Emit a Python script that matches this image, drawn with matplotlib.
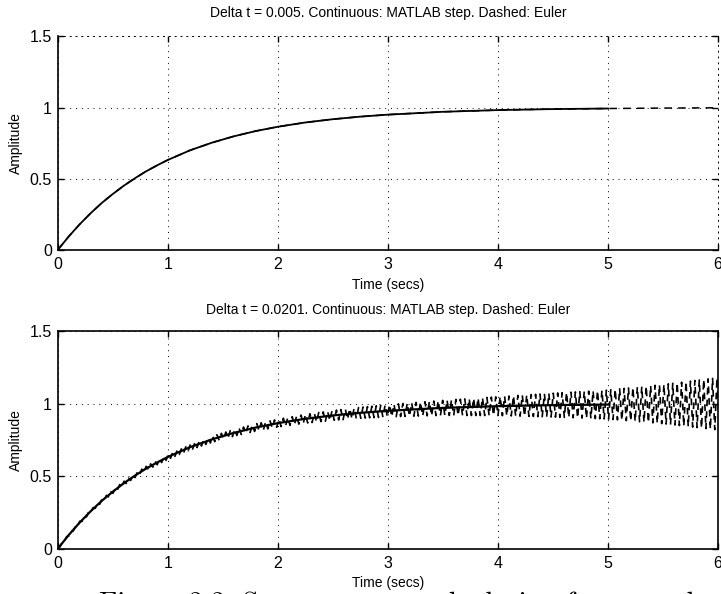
import matplotlib.pyplot as plt
import numpy as np

plt.rcParams['font.family'] = ['Liberation Sans', 'DejaVu Sans']

# respuesta continua (MATLAB step)
t_cont = [0, 0.1, 0.2, 0.3, 0.4, 0.5, 0.6, 0.7, 0.8, 0.9, 1.0, 1.2, 1.4, 1.6,
          1.8, 2.0, 2.25, 2.5, 2.75, 3.0, 3.5, 4.0, 4.5, 5.0]
y_cont = [0, 0.095, 0.181, 0.259, 0.330, 0.393, 0.451, 0.503, 0.551, 0.593,
          0.632, 0.699, 0.753, 0.798, 0.835, 0.865, 0.895, 0.918, 0.936, 0.950,
          0.970, 0.982, 0.989, 0.993]

# Euler dt = 0.005 (sigue la curva y continua hasta 6 s)
t_eu1 = t_cont + [5.5, 6.0]
y_eu1 = y_cont + [0.996, 0.998]

# Euler dt = 0.0201: amplitud de la oscilacion
dt2 = 0.0201
env_t = [0, 0.5, 1, 1.5, 2, 2.5, 3, 3.5, 4, 4.5, 5, 5.5, 6]
env_a = [0.006, 0.012, 0.017, 0.022, 0.027, 0.034, 0.042, 0.052, 0.065,
         0.082, 0.100, 0.135, 0.180]

xticks = [0, 1, 2, 3, 4, 5, 6]
yticks = [0, 0.5, 1, 1.5]

t_eu2 = np.arange(0, 6.0 + dt2 / 2, dt2)
base2 = np.interp(t_eu2, t_eu1, y_eu1)
osc2 = np.interp(t_eu2, env_t, env_a) * (-1.0) ** np.arange(len(t_eu2))
osc2[0] = 0
y_eu2 = base2 + osc2

fig = plt.figure(figsize=(7.21, 5.94), dpi=100)
ax1 = fig.add_axes([0.080, 0.579, 0.916, 0.360])
ax2 = fig.add_axes([0.080, 0.076, 0.916, 0.367])

ax1.plot(t_cont, y_cont, color='black', lw=1.3)
ax1.plot(t_eu1, y_eu1, color='black', lw=1.1, ls=(0, (5, 4)))
ax1.set_title('Delta t = 0.005. Continuous: MATLAB step. Dashed: Euler', fontsize=10, pad=14)

ax2.plot(t_cont, y_cont, color='black', lw=1.6)
ax2.plot(t_eu2, y_eu2, color='black', lw=1.2, ls=(0, (4, 3)))
ax2.set_title('Delta t = 0.0201. Continuous: MATLAB step. Dashed: Euler', fontsize=10, pad=12)

for ax in (ax1, ax2):
    ax.set_xlim(0, 6)
    ax.set_ylim(0, 1.5)
    ax.set_xticks(xticks)
    ax.set_yticks(yticks)
    ax.set_xticklabels([str(v) for v in xticks], fontsize=11.5)
    ax.set_yticklabels(['0', '0.5', '1', '1.5'], fontsize=11.5)
    ax.tick_params(direction='in', top=True, right=True, length=4, width=1, pad=4)
    ax.tick_params(axis='x', pad=5)
    ax.grid(True, color='black', ls=(0, (1, 5)), lw=0.7)
    ax.set_ylabel('Amplitude', fontsize=10, labelpad=5)
    ax.set_xlabel('Time (secs)', fontsize=10, labelpad=4,
                  bbox=dict(facecolor='white', edgecolor='none', pad=1))
    for s in ax.spines.values():
        s.set_linewidth(1.2)

# en la figura de arriba el marco superior y derecho casi no se ve
ax1.spines['top'].set_linestyle((0, (1, 5)))
ax1.spines['right'].set_linestyle((0, (1, 5)))
ax1.spines['top'].set_linewidth(0.7)
ax1.spines['right'].set_linewidth(0.7)

# leyenda del documento escaneado, cortada abajo
fig.text(0.138, -0.03, 'Figure 2.2: Step response calculation for several',
         family='cmr10', fontsize=20.5, va='baseline', ha='left', zorder=-1)

fig.savefig('out.png', dpi=100)
